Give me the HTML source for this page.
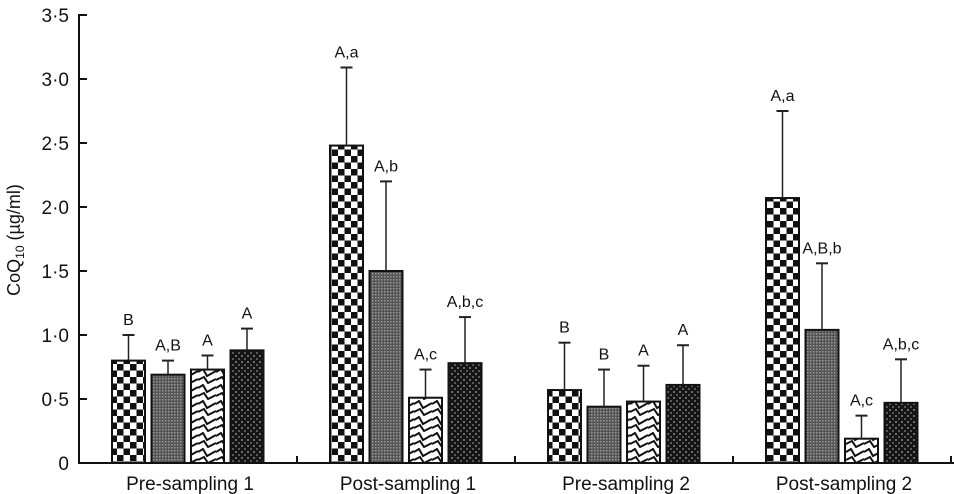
<!DOCTYPE html>
<html><head><meta charset="utf-8"><style>
body{margin:0;background:#fff}
svg{display:block;font-family:"Liberation Sans",Arial,sans-serif}
</style></head><body>
<svg id="chart" width="954" height="494" viewBox="0 0 954 494">
<defs>
<pattern id="p-check" width="13" height="13" patternUnits="userSpaceOnUse">
<rect width="13" height="13" fill="#fff"/><rect width="6.5" height="6.5" fill="#111"/><rect x="6.5" y="6.5" width="6.5" height="6.5" fill="#111"/>
</pattern>
<pattern id="p-gray" width="3" height="3" patternUnits="userSpaceOnUse">
<rect width="3" height="3" fill="#555"/><rect width="1.5" height="1.5" fill="#999"/>
</pattern>
<pattern id="p-zig" width="18" height="16" patternUnits="userSpaceOnUse">
<rect width="18" height="16" fill="#fff"/><path d="M0 4 L5 1 L9 8 L18 3 M0 12 L6 9 L10 15 L18 11" stroke="#111" stroke-width="2" fill="none"/>
</pattern>
<pattern id="p-dot" width="6" height="6" patternUnits="userSpaceOnUse">
<rect width="6" height="6" fill="#151515"/><circle cx="2" cy="2" r="0.9" fill="#aaa"/><circle cx="5" cy="5" r="0.9" fill="#888"/>
</pattern>
</defs>
<g id="plot"></g>
</svg>
<script>
const groups = ["Pre-sampling 1","Post-sampling 1","Pre-sampling 2","Post-sampling 2"];
const means = [[0.80,0.69,0.73,0.88],[2.48,1.50,0.51,0.78],[0.57,0.44,0.48,0.61],[2.07,1.04,0.19,0.47]];
const errTops = [[1.00,0.80,0.84,1.05],[3.09,2.20,0.73,1.14],[0.94,0.73,0.76,0.92],[2.75,1.56,0.37,0.81]];
const sigLabels = [["B","A,B","A","A"],["A,a","A,b","A,c","A,b,c"],["B","B","A","A"],["A,a","A,B,b","A,c","A,b,c"]];
const yTicks = [0,0.5,1,1.5,2,2.5,3,3.5];
const yTickLabels = ["0","0·5","1·0","1·5","2·0","2·5","3·0","3·5"];
const fills = ["url(#p-check)","url(#p-gray)","url(#p-zig)","url(#p-dot)"];

const NS="http://www.w3.org/2000/svg";
const g=document.getElementById('plot');
const x0=79, baseY=463, pxPerUnit=128, groupW=218;
const y=v=>baseY-v*pxPerUnit;
const gx=i=>x0+groupW*i+111;
function el(t,a,txt){const e=document.createElementNS(NS,t);for(const k in a)e.setAttribute(k,a[k]);if(txt!=null)e.textContent=txt;g.appendChild(e);return e;}

groups.forEach((name,i)=>{
  means[i].forEach((m,j)=>{
    const bx=gx(i)-78+j*39.5, bw=33, cx=bx+bw/2;
    const et=errTops[i][j];
    const r=el('rect',{x:bx,y:y(m),width:bw,height:baseY-y(m),fill:fills[j],stroke:'#111','stroke-width':2});
    
    
    const l=el('line',{x1:cx,x2:cx,y1:y(m),y2:y(et),stroke:'#222','stroke-width':1.5});
    
    
    const c=el('line',{x1:cx-6,x2:cx+6,y1:y(et),y2:y(et),stroke:'#222','stroke-width':2});
    
    
    if(sigLabels[i][j]){
      const t=el('text',{x:cx,y:y(et)-10,'text-anchor':'middle','font-size':16,fill:'#111'},sigLabels[i][j]);
      
      
    }
  });
  const t=el('text',{x:gx(i),y:490,'text-anchor':'middle','font-size':19,fill:'#111'},name);
  
  
  const tk=el('line',{x1:x0+groupW*(i+1),x2:x0+groupW*(i+1),y1:baseY,y2:baseY-7,stroke:'#111','stroke-width':2});
  
  
});
yTicks.forEach((v,k)=>{
  const tk=el('line',{x1:x0,x2:x0+8,y1:y(v),y2:y(v),stroke:'#111','stroke-width':2});
  
  
  const t=el('text',{x:69,y:y(v)+7,'text-anchor':'end','font-size':19,fill:'#111'},yTickLabels[k]);
  
  
});
const ya=el('line',{x1:x0,x2:x0,y1:y(3.5)-1,y2:baseY+1,stroke:'#111','stroke-width':2});


const xa=el('line',{x1:x0,x2:954,y1:baseY,y2:baseY,stroke:'#111','stroke-width':2});


const yt=el('text',{x:0,y:0,'text-anchor':'middle','font-size':18,fill:'#111',transform:'translate(20,240) rotate(-90)'});


yt.innerHTML='CoQ<tspan font-size="12" dy="4">10</tspan><tspan dy="-4"> (µg/ml)</tspan>';
</script>
</body></html>
